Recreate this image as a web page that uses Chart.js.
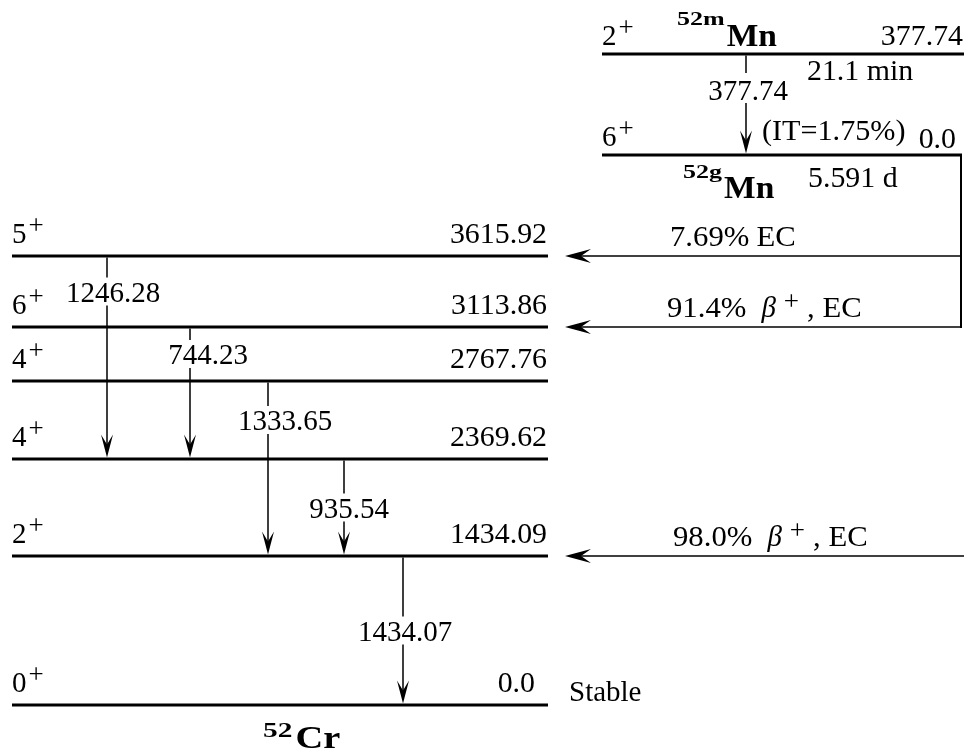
<!DOCTYPE html>
<html><head><meta charset="utf-8">
<script src="https://cdn.jsdelivr.net/npm/chart.js@4.4.1/dist/chart.umd.min.js"></script>
<style>html,body{margin:0;padding:0;background:#fff}canvas{display:block}</style>
</head><body>
<canvas id="c" width="964" height="756"></canvas>
<script>
// ---------------- data ----------------
const crLevelEnergies = [3615.92, 3113.86, 2767.76, 2369.62, 1434.09, 0.0];
const crLevelSpins = ['5', '6', '4', '4', '2', '0'];
const crLevelParity = ['+', '+', '+', '+', '+', '+'];
const mnLevelEnergies = [377.74, 0.0];
const mnLevelSpins = ['2', '6'];
const mnLevelNames = ['52m', '52g'];
const mnHalfLives = ['21.1 min', '5.591 d'];
const gammaEnergies = [1246.28, 744.23, 1333.65, 935.54, 1434.07];
const gammaFrom = [3615.92, 3113.86, 2767.76, 2369.62, 1434.09];
const gammaTo = [2369.62, 2369.62, 1434.09, 1434.09, 0.0];
const itGammaEnergy = 377.74;
const itBranch = '1.75%';
const betaPercents = ['7.69%', '91.4%', '98.0%'];
const betaModes = [['EC'], ['β', '+', ', EC'], ['β', '+', ', EC']];
const betaTo = [3615.92, 3113.86, 1434.09];
const betaFromIsomer = [false, false, true];

// ---------------- layout (drawing units) ----------------
const L = {
  crRowY: [256, 327, 381, 459, 556, 705],
  crX: [12, 548],
  mnRowY: [54, 155],
  mnX: [602, 961],
  gammaX: [107, 190, 268, 344, 403],
  gammaLabelDx: [6, 18, 17, 5, 2],
  itX: 746,
  betaTipX: 565,
  betaLabelX: [670, 667, 673],
  feedX: 961,
  isoFeedX: 964
};
const crY = e => L.crRowY[crLevelEnergies.indexOf(e)];

const FONT = '"Liberation Serif", "Times New Roman", serif';
const BLACK = '#000';

// ---------------- datasets ----------------
const seg = (x1, y1, x2, y2, w) => ({
  data: [{x: x1, y: y1}, {x: x2, y: y2}],
  showLine: true, borderColor: BLACK, borderWidth: w, pointRadius: 0,
  borderCapStyle: 'butt', fill: false
});
const datasets = [];
crLevelEnergies.forEach(e => datasets.push(seg(L.crX[0], crY(e), L.crX[1], crY(e), 3)));
mnLevelEnergies.forEach((e, i) => datasets.push(seg(L.mnX[0], L.mnRowY[i], L.mnX[1] + (i === 1 ? 1 : 3), L.mnRowY[i], 3)));
datasets.push(seg(L.feedX, L.mnRowY[1], L.feedX, crY(betaTo[1]) + 1, 2));
betaTo.forEach((e, i) => {
  const x0 = betaFromIsomer[i] ? L.isoFeedX : L.feedX;
  datasets.push(seg(x0, crY(e), L.betaTipX + 4, crY(e), 1.5));
});
gammaEnergies.forEach((g, i) => {
  datasets.push(seg(L.gammaX[i], crY(gammaFrom[i]) + 1.5, L.gammaX[i], crY(gammaTo[i]) - 6, 1.5));
});
datasets.push(seg(L.itX, L.mnRowY[0] + 1.5, L.itX, L.mnRowY[1] - 6, 1.5));

// ---------------- drawing helpers ----------------
function drawRich(ctx, parts, x, y, align) {
  let w = 0;
  parts.forEach(p => {
    ctx.font = p.f;
    p.sx = p.sx || 1;
    p.w = (p.t ? ctx.measureText(p.t).width * p.sx : 0) + (p.gap || 0);
    w += p.w;
  });
  let cx = align === 'right' ? x - w : align === 'center' ? x - w / 2 : x;
  parts.forEach(p => {
    if (p.t) {
      ctx.save();
      ctx.font = p.f; ctx.textAlign = 'left'; ctx.textBaseline = 'alphabetic';
      ctx.translate(cx, y + (p.dy || 0));
      ctx.scale(p.sx, 1);
      ctx.fillText(p.t, 0, 0);
      ctx.restore();
    }
    cx += p.w;
  });
  return w;
}
function arrowHead(ctx, tx, ty, dx, dy, len, half, notch) {
  const px = -dy, py = dx;
  ctx.beginPath();
  ctx.moveTo(tx, ty);
  ctx.lineTo(tx - dx * len + px * half, ty - dy * len + py * half);
  ctx.lineTo(tx - dx * notch, ty - dy * notch);
  ctx.lineTo(tx - dx * len - px * half, ty - dy * len - py * half);
  ctx.closePath();
  ctx.fill();
}
const f = (size, bold, italic) => (italic ? 'italic ' : '') + (bold ? 'bold ' : '') + size + 'px ' + FONT;

const overlay = {
  id: 'overlay',
  afterDatasetsDraw(chart) {
    const ctx = chart.ctx, xs = chart.scales.x, ys = chart.scales.y;
    const X = v => xs.getPixelForValue(v), Y = v => ys.getPixelForValue(v);
    ctx.save();
    ctx.fillStyle = BLACK;
    const FS = 29;
    const spinParts = (s, p) => [{t: s, f: f(FS), gap: 2}, {t: p, f: f(27), dy: -9}];

    // gamma arrows and labels
    gammaEnergies.forEach((g, i) => {
      const x = X(L.gammaX[i]);
      arrowHead(ctx, x, Y(crY(gammaTo[i]) - 1.5), 0, 1, 23, 6, 13);
      const idx = crLevelEnergies.indexOf(gammaFrom[i]);
      const ly = (L.crRowY[idx] + L.crRowY[idx + 1]) / 2;
      ctx.font = f(FS);
      const txt = g.toFixed(2);
      const w = ctx.measureText(txt).width;
      const cx = X(L.gammaX[i] + L.gammaLabelDx[i]);
      ctx.fillStyle = '#fff';
      ctx.fillRect(cx - w / 2 - 2, Y(ly) - 14, w + 4, 28);
      ctx.fillStyle = BLACK;
      drawRich(ctx, [{t: txt, f: f(FS)}], cx, Y(ly) + 10, 'center');
    });
    // IT gamma
    arrowHead(ctx, X(L.itX), Y(L.mnRowY[1] - 1.5), 0, 1, 23, 6, 13);
    ctx.font = f(FS);
    const itTxt = itGammaEnergy.toFixed(2);
    const itW = ctx.measureText(itTxt).width;
    ctx.fillStyle = '#fff';
    ctx.fillRect(X(748) - itW / 2 - 2, Y(73), itW + 4, 30);
    ctx.fillStyle = BLACK;
    drawRich(ctx, [{t: itTxt, f: f(FS)}], X(748), Y(100), 'center');
    drawRich(ctx, [{t: '(IT=' + itBranch + ')', f: f(FS), sx: 1.04}], X(762), Y(140), 'left');

    // beta arrows and labels
    betaTo.forEach((e, i) => {
      arrowHead(ctx, X(L.betaTipX), Y(crY(e)), -1, 0, 26, 7, 16);
      const m = betaModes[i];
      let parts;
      if (m.length === 1) {
        parts = [{t: betaPercents[i], f: f(FS), sx: 1.06, gap: 7}, {t: m[0], f: f(FS), sx: 1.06}];
      } else {
        parts = [{t: betaPercents[i], f: f(FS), sx: 1.06, gap: 15},
                 {t: m[0], f: f(FS, false, true), gap: 8},
                 {t: m[1], f: f(27), dy: -7, gap: 8},
                 {t: m[2], f: f(FS), sx: 1.06}];
      }
      drawRich(ctx, parts, X(L.betaLabelX[i]), Y(crY(e) - 10), 'left');
    });

    // Cr levels: spins and energies
    crLevelEnergies.forEach((e, i) => {
      const y = Y(L.crRowY[i] - 13);
      drawRich(ctx, spinParts(crLevelSpins[i], crLevelParity[i]), X(L.crX[0]), y, 'left');
      const xr = e === 0 ? L.crX[1] - 13 : L.crX[1] - 1;
      drawRich(ctx, [{t: e === 0 ? '0.0' : e.toFixed(2), f: f(FS), sx: 1.03}], X(xr), y, 'right');
    });
    drawRich(ctx, [{t: 'Stable', f: f(FS)}], X(569), Y(701), 'left');
    drawRich(ctx, [{t: '52', f: f(21, true), sx: 1.4, dy: -11, gap: 3}, {t: 'Cr', f: f(32, true), sx: 1.2}], X(263), Y(748), 'left');

    // Mn levels
    mnLevelEnergies.forEach((e, i) => {
      const y = Y(L.mnRowY[i] - 9);
      drawRich(ctx, spinParts(mnLevelSpins[i], '+'), X(L.mnX[0]), y, 'left');
      drawRich(ctx, [{t: e === 0 ? '0.0' : e.toFixed(2), f: f(FS), sx: 1.03}], X(e === 0 ? 956 : 963), Y(L.mnRowY[i] - (e === 0 ? 7 : 9)), 'right');
    });
    drawRich(ctx, [{t: mnLevelNames[0], f: f(19, true), sx: 1.37, dy: -21, gap: 2}, {t: 'Mn', f: f(31, true), sx: 1.08}], X(677), Y(46), 'left');
    drawRich(ctx, [{t: mnHalfLives[0], f: f(FS), sx: 1.03}], X(807), Y(80), 'left');
    drawRich(ctx, [{t: mnLevelNames[1], f: f(19, true), sx: 1.37, dy: -20, gap: 2}, {t: 'Mn', f: f(31, true), sx: 1.08}], X(683), Y(198), 'left');
    drawRich(ctx, [{t: mnHalfLives[1], f: f(FS), sx: 1.03}], X(808), Y(187), 'left');

    ctx.restore();
  }
};

new Chart(document.getElementById('c'), {
  type: 'scatter',
  data: {datasets},
  options: {
    responsive: false, animation: false,
    layout: {padding: 0},
    plugins: {legend: {display: false}, tooltip: {enabled: false}},
    scales: {
      x: {type: 'linear', min: 0, max: 964, display: false},
      y: {type: 'linear', min: 0, max: 756, reverse: true, display: false}
    }
  },
  plugins: [overlay]
});
</script>
</body></html>
